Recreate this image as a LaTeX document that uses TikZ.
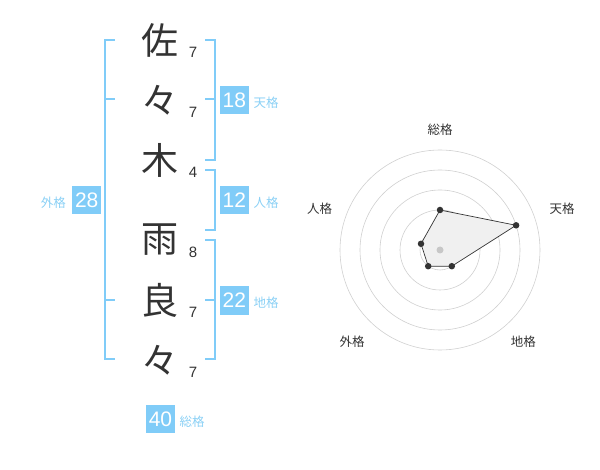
\documentclass[tikz,border=0pt]{standalone}
\usetikzlibrary{calc}
\usepackage{fontspec}
\setmainfont{Liberation Sans}
\newfontfamily\jp{Noto Sans CJK JP}
\definecolor{kblue}{HTML}{80CCF8}
\definecolor{klab}{HTML}{8AD0F5}
\definecolor{kdark}{HTML}{333333}
\definecolor{kring}{HTML}{D0D0D0}
\begin{document}
\begin{tikzpicture}[x=1pt,y=-1pt,
  kanji/.style={font=\jp\fontsize{37}{37}\selectfont, text=kdark, inner sep=0},
  stroke/.style={font=\fontsize{15}{15}\selectfont, text=kdark, inner sep=0},
  brk/.style={draw=kblue, line width=2pt},
  numbox/.style={fill=kblue, text=white, minimum width=29pt, minimum height=28.5pt, inner sep=0, font=\fontsize{21}{21}\selectfont},
  klabel/.style={font=\jp\fontsize{12.5}{12.5}\selectfont, text=klab, inner sep=0},
  ring/.style={draw=kring, line width=0.6pt},
  rlabel/.style={font=\jp\fontsize{12.5}{12.5}\selectfont, text=kdark, inner sep=0},
  dot/.style={circle, fill=kdark, inner sep=0, minimum size=6.5pt}]
\useasboundingbox (0,0) rectangle (600,470);
% characters
\node[kanji] (c1) at (160,40) {佐};
\node[kanji] (c2) at (160,100) {々};
\node[kanji] (c3) at (160,160) {木};
\node[kanji] (c4) at (160,240) {雨};
\node[kanji] (c5) at (160,300) {良};
\node[kanji] (c6) at (160,360) {々};
\node[stroke] (s1) at (193,52.7) {7};
\node[stroke] (s2) at (193,112.7) {7};
\node[stroke] (s3) at (193,172.7) {4};
\node[stroke] (s4) at (193,252.7) {8};
\node[stroke] (s5) at (193,312.7) {7};
\node[stroke] (s6) at (193,372.7) {7};
% left bracket (gaikaku)
\draw[brk] (115,40) -- (105.3,40) -- (105.3,359.3) -- (115,359.3);
\draw[brk] (105.3,99.3) -- (115,99.3);
\draw[brk] (105.3,300) -- (115,300);
\node[numbox] (b28) at (86.7,200.2) {28};
\node[klabel, anchor=east] (l28) at (66,203) {外格};
% tenkaku
\draw[brk] (205,40) -- (215,40) -- (215,160) -- (205,160);
\draw[brk] (205,99.3) -- (215,99.3);
\node[numbox] (b18) at (234.3,100.2) {18};
\node[klabel, anchor=west] (l18) at (253.5,103) {天格};
% jinkaku
\draw[brk] (205,169.8) -- (215,169.8) -- (215,230) -- (205,230);
\node[numbox] (b12) at (234.3,200.2) {12};
\node[klabel, anchor=west] (l12) at (253.5,203) {人格};
% chikaku
\draw[brk] (205,240) -- (215,240) -- (215,359.3) -- (205,359.3);
\draw[brk] (205,300) -- (215,300);
\node[numbox] (b22) at (234.3,300.3) {22};
\node[klabel, anchor=west] (l22) at (253.5,303) {地格};
% soukaku
\node[numbox] (b40) at (160.5,419.2) {40};
\node[klabel, anchor=west] (l40) at (179.5,422) {総格};
% radar
\coordinate (o) at (440,250);
\foreach \r in {20,40,60,80,100} \draw[ring] (o) circle[radius=\r];
\coordinate (p1) at ($(o)+(0,-40)$);
\coordinate (p2) at ($(o)+(76.1,-24.7)$);
\coordinate (p3) at ($(o)+(11.8,16.2)$);
\coordinate (p4) at ($(o)+(-11.8,16.2)$);
\coordinate (p5) at ($(o)+(-19.0,-6.2)$);
\fill[black!6] (p1) -- (p2) -- (p3) -- (p4) -- (p5) -- cycle;
\draw[kdark, line width=0.7pt] (p1) -- (p2) -- (p3) -- (p4) -- (p5) -- cycle;
\foreach \p in {p1,p2,p3,p4,p5} \node[dot] at (\p) {};
\node[circle, fill=black!22, inner sep=0, minimum size=7pt] (ctr) at (o) {};
\node[rlabel] (r1) at (440,130) {総格};
\node[rlabel] (r2) at (562,208.3) {天格};
\node[rlabel] (r3) at (523.3,342) {地格};
\node[rlabel] (r4) at (352,342) {外格};
\node[rlabel] (r5) at (319.5,208.3) {人格};
\end{tikzpicture}
\end{document}
